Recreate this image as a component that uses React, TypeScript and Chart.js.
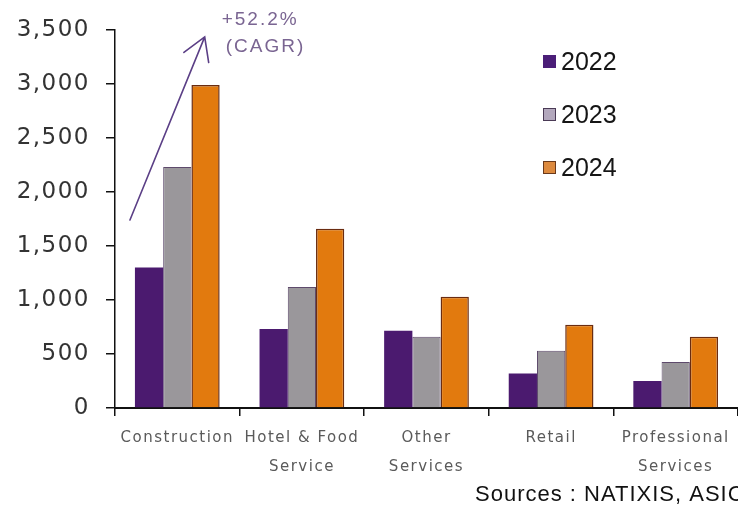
import React, { useEffect, useRef } from 'react';
import { Chart, registerables } from 'chart.js';

Chart.register(...registerables);

const categories: (string | string[])[] = [
  'Construction',
  ['Hotel & Food', 'Service'],
  ['Other', 'Services'],
  'Retail',
  ['Professional', 'Services'],
];
const seriesNames = ['2022', '2023', '2024'];
const values2022 = [1300, 730, 715, 320, 250];
const values2023 = [2230, 1120, 660, 530, 425];
const values2024 = [2990, 1660, 1030, 770, 660];
const yMin = 0;
const yMax = 3500;
const yStep = 500;
const cagrLines = ['+52.2%', '(CAGR)'];
// arrow expressed in data terms: [category index, value]
const arrowStart = [-0.38, 1740];
const arrowEnd = [0.22, 3435];
const sourceText = 'Sources : NATIXIS, ASIC';

const barColors = ['#4B1A6F', '#9A979B', '#E27A0E'];
const barBorders = ['#4B1A6F', '#5E4A6C', '#6A2C10'];
const barBorderWidths = [0, 1, 1.5];
const legendFills = ['#4B1E78', '#B3A8BD', '#DD8A3E'];
const legendBorders = ['#4B1E78', '#4A3A55', '#6A3A1C'];

const fmt = (v: number) => v.toLocaleString('en-US');

export default function App() {
  const ref = useRef<HTMLCanvasElement | null>(null);

  useEffect(() => {
    document.body.style.margin = '0';
    const canvas = ref.current;
    if (!canvas) return;

    const spacingPlugin = {
      id: 'spacing',
      beforeDraw(chart: any) {
        (chart.ctx as any).letterSpacing = '1.5px';
      },
    };

    const overlayPlugin = {
      id: 'overlay',
      afterDraw(chart: any) {
        const ctx = chart.ctx as CanvasRenderingContext2D & { letterSpacing?: string };
        const xs = chart.scales.x;
        const ys = chart.scales.y;
        ctx.save();
        // arrow
        const x0 = xs.getPixelForValue(arrowStart[0]);
        const y0 = ys.getPixelForValue(arrowStart[1]);
        const x1 = xs.getPixelForValue(arrowEnd[0]);
        const y1 = ys.getPixelForValue(arrowEnd[1]);
        ctx.strokeStyle = '#5B3F86';
        ctx.lineWidth = 1.6;
        ctx.lineCap = 'round';
        ctx.beginPath();
        ctx.moveTo(x0, y0);
        ctx.lineTo(x1, y1);
        const back = Math.atan2(y0 - y1, x0 - x1);
        const headLen = 26;
        const spread = (31 * Math.PI) / 180;
        ctx.moveTo(x1 + headLen * Math.cos(back + spread), y1 + headLen * Math.sin(back + spread));
        ctx.lineTo(x1, y1);
        ctx.lineTo(x1 + headLen * Math.cos(back - spread), y1 + headLen * Math.sin(back - spread));
        ctx.stroke();

        // CAGR text
        ctx.letterSpacing = '2px';
        ctx.font = '19px "Liberation Sans", Arial, sans-serif';
        ctx.fillStyle = '#7A6592';
        ctx.textBaseline = 'middle';
        ctx.textAlign = 'left';
        ctx.fillText(cagrLines[0], x1 + 17, y1 - 17);
        ctx.fillText(cagrLines[1], x1 + 21, y1 + 10);

        // legend
        ctx.letterSpacing = '0px';
        ctx.font = '25px "Liberation Sans", Arial, sans-serif';
        chart.data.datasets.forEach((ds: any, i: number) => {
          const cy = 62 + i * 53;
          ctx.fillStyle = legendFills[i];
          ctx.fillRect(543, cy - 7, 13, 13);
          ctx.strokeStyle = legendBorders[i];
          ctx.lineWidth = 1;
          ctx.strokeRect(543.5, cy - 6.5, 12, 12);
          ctx.fillStyle = '#151515';
          ctx.fillText(ds.label, 561, cy + 1);
        });

        // source
        ctx.letterSpacing = '1px';
        ctx.font = '22px "Liberation Sans", Arial, sans-serif';
        ctx.fillStyle = '#111111';
        ctx.fillText(sourceText, 475, 495);
        ctx.restore();
      },
    };

    const chart = new Chart(canvas, {
      type: 'bar',
      data: {
        labels: categories,
        datasets: seriesNames.map((name, i) => ({
          label: name,
          data: [values2022, values2023, values2024][i],
          backgroundColor: barColors[i],
          borderColor: barBorders[i],
          borderWidth: barBorderWidths[i],
          categoryPercentage: 0.68,
          barPercentage: 1.0,
        })),
      },
      options: {
        animation: false,
        responsive: false,
        devicePixelRatio: 1,
        layout: { padding: { left: 0, right: -3, top: 29, bottom: 0 } },
        plugins: {
          legend: { display: false },
          tooltip: { enabled: false },
        },
        scales: {
          x: {
            offset: true,
            grid: {
              offset: true,
              drawOnChartArea: false,
              drawTicks: true,
              tickLength: 8,
              color: '#111',
              lineWidth: 1.5,
            },
            border: { display: true, color: '#111', width: 2 },
            ticks: {
              color: '#5A5A5A',
              padding: 7,
              maxRotation: 0,
              autoSkip: false,
              font: { family: '"DejaVu Sans", sans-serif', size: 15, lineHeight: 1.98 },
            },
            afterFit: (s: any) => {
              s.height = 97;
            },
          },
          y: {
            min: yMin,
            max: yMax,
            grid: {
              drawOnChartArea: false,
              drawTicks: true,
              tickLength: 9,
              color: '#111',
              lineWidth: 1.5,
            },
            border: { display: true, color: '#111', width: 1.5 },
            ticks: {
              stepSize: yStep,
              color: '#333',
              padding: 16,
              font: { family: '"DejaVu Sans", sans-serif', size: 23 },
              callback: (v: any) => fmt(Number(v)),
            },
            afterFit: (s: any) => {
              s.width = 115;
            },
          },
        },
      },
      plugins: [spacingPlugin, overlayPlugin],
    });

    return () => chart.destroy();
  }, []);

  return (
    <div style={{ width: 738, height: 505, background: '#fff' }}>
      <canvas ref={ref} width={738} height={505} />
    </div>
  );
}
